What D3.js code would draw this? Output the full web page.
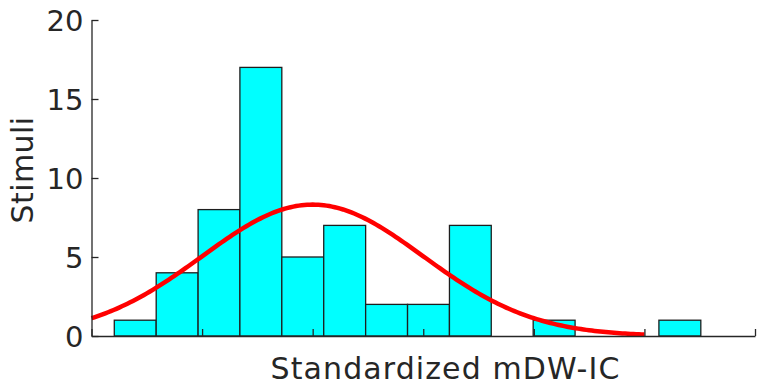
<!DOCTYPE html>
<html>
<head>
<meta charset="utf-8">
<script src="https://cdn.jsdelivr.net/npm/d3@7"></script>
<style>
  html, body { margin: 0; padding: 0; background: #fff; }
  svg { display: block; }
  text { font-family: "DejaVu Sans", Verdana, sans-serif; fill: #262626; }
</style>
</head>
<body>
<svg id="chart" width="758" height="388"></svg>
<script>
// Histogram bin edges (standardized units) and counts per bin
const binEdges = [-1.794, -1.415, -1.036, -0.658, -0.279, 0.100, 0.479, 0.858,
                  1.237, 1.615, 1.994, 2.373, 2.752, 3.131, 3.510];
const binCounts = [1, 4, 8, 17, 5, 7, 2, 2, 7, 0, 1, 0, 0, 1];

// Axis ticks
const yTicks = [0, 5, 10, 15, 20];
const xTicks = [-2, -1, 0, 1, 2, 3, 4];

// Normal fit parameters and plotted range of the fitted curve
const fitMean = 0;
const fitSd = 1;
const fitRange = [-2, 3];

const svg = d3.select("#chart");
const axisColor = "#262626";

const x = d3.scaleLinear().domain([-2, 4]).range([91.5, 755]);
const y = d3.scaleLinear().domain([0, 20]).range([336, 20]);

// Bars
const bins = binCounts.map((c, i) => ({ x0: binEdges[i], x1: binEdges[i + 1], count: c }));
svg.append("g")
  .selectAll("rect")
  .data(bins.filter(d => d.count > 0))
  .join("rect")
  .attr("x", d => x(d.x0))
  .attr("y", d => y(d.count))
  .attr("width", d => x(d.x1) - x(d.x0))
  .attr("height", d => y(0) - y(d.count))
  .attr("fill", "#00ffff")
  .attr("stroke", "#1e1e1e")
  .attr("stroke-width", 1.3);

// Fitted normal density scaled to counts
const total = d3.sum(binCounts);
const binWidth = binEdges[1] - binEdges[0];
const pdf = v => Math.exp(-0.5 * ((v - fitMean) / fitSd) ** 2) / (Math.sqrt(2 * Math.PI) * fitSd);
const curvePts = d3.range(0, 201).map(i => {
  const v = fitRange[0] + (fitRange[1] - fitRange[0]) * i / 200;
  return [v, total * binWidth * pdf(v)];
});
svg.append("path")
  .datum(curvePts)
  .attr("fill", "none")
  .attr("stroke", "#ff0000")
  .attr("stroke-width", 4.5)
  .attr("d", d3.line().x(d => x(d[0])).y(d => y(d[1])));

// Y axis (ticks pointing inward)
const yAxis = svg.append("g")
  .attr("transform", `translate(${x.range()[0]},0)`)
  .call(d3.axisLeft(y).tickValues(yTicks).tickSizeInner(-7).tickSizeOuter(0).tickPadding(8));
yAxis.select(".domain").attr("stroke", axisColor).attr("stroke-width", 1.3);
yAxis.selectAll(".tick line").attr("stroke", axisColor).attr("stroke-width", 1.3);
yAxis.selectAll(".tick text")
  .attr("font-size", 29)
  .attr("font-family", "DejaVu Sans, Verdana, sans-serif")
  .attr("fill", axisColor)
  .attr("dy", "0.36em");

// X axis (ticks pointing inward, no labels)
const xAxis = svg.append("g")
  .attr("transform", `translate(0,${y(0)})`)
  .call(d3.axisBottom(x).tickValues(xTicks).tickSizeInner(-7).tickSizeOuter(0).tickFormat(""));
xAxis.select(".domain").attr("stroke", axisColor).attr("stroke-width", 1.3);
xAxis.selectAll(".tick line").attr("stroke", axisColor).attr("stroke-width", 1.3);

// Axis titles
svg.append("text")
  .attr("x", 445.5)
  .attr("y", 378.5)
  .attr("text-anchor", "middle")
  .attr("font-size", 30)
  .attr("letter-spacing", 1.1)
  .text("Standardized mDW-IC");

svg.append("text")
  .attr("transform", "translate(33,170) rotate(-90)")
  .attr("text-anchor", "middle")
  .attr("font-size", 30)
  .attr("letter-spacing", 0.4)
  .text("Stimuli");
</script>
</body>
</html>
